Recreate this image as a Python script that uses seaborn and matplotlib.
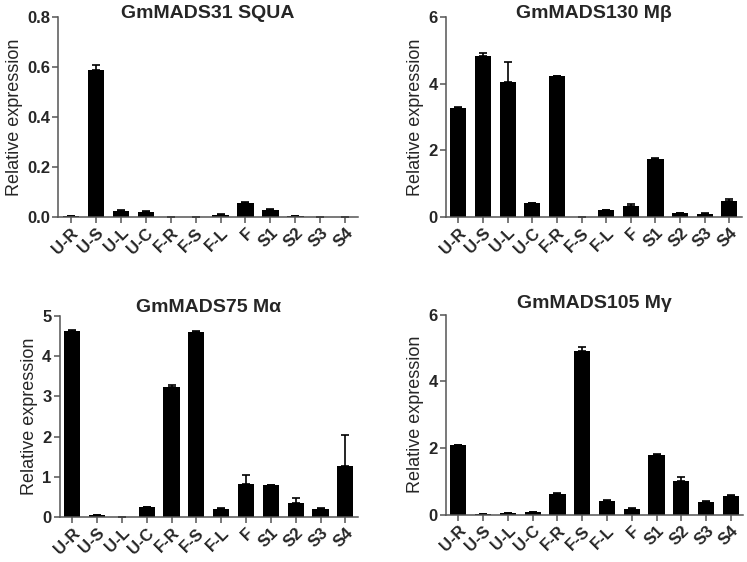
import numpy as np
import pandas as pd
import matplotlib
matplotlib.use("Agg")
import matplotlib.pyplot as plt
import seaborn as sns

samples = ["U-R", "U-S", "U-L", "U-C", "F-R", "F-S", "F-L", "F", "S1", "S2", "S3", "S4"]

squa_mean = [0.003, 0.587, 0.024, 0.020, 0.0, 0.0, 0.009, 0.056, 0.028, 0.002, 0.0, 0.0]
squa_err = [0.001, 0.020, 0.002, 0.002, 0.0, 0.0, 0.002, 0.005, 0.005, 0.001, 0.0, 0.0]

mb_mean = [3.28, 4.84, 4.04, 0.41, 4.22, 0.0, 0.20, 0.32, 1.75, 0.11, 0.09, 0.49]
mb_err = [0.02, 0.07, 0.60, 0.02, 0.02, 0.0, 0.02, 0.08, 0.02, 0.02, 0.02, 0.06]

ma_mean = [4.62, 0.05, 0.0, 0.24, 3.23, 4.59, 0.21, 0.82, 0.79, 0.34, 0.21, 1.28]
ma_err = [0.02, 0.01, 0.0, 0.01, 0.04, 0.03, 0.01, 0.23, 0.01, 0.14, 0.01, 0.75]

mg_mean = [2.08, 0.02, 0.04, 0.08, 0.63, 4.92, 0.42, 0.18, 1.80, 1.00, 0.38, 0.56]
mg_err = [0.01, 0.005, 0.01, 0.01, 0.01, 0.10, 0.02, 0.02, 0.02, 0.12, 0.04, 0.02]

titles = ["GmMADS31 SQUA", "GmMADS130 Mβ", "GmMADS75 Mα", "GmMADS105 Mγ"]
ymax = [0.8, 6, 5, 6]
yticks = [[0.0, 0.2, 0.4, 0.6, 0.8], [0, 2, 4, 6], [0, 1, 2, 3, 4, 5], [0, 2, 4, 6]]

sns.set_style("ticks")
plt.rcParams["font.family"] = ["Liberation Sans", "DejaVu Sans"]

fig = plt.figure(figsize=(7.47, 5.62), dpi=100)
boxes = [
    [0.078, 0.614, 0.401, 0.356],
    [0.597, 0.614, 0.396, 0.356],
    [0.080, 0.080, 0.399, 0.358],
    [0.597, 0.084, 0.398, 0.356],
]
title_pads = [-1, -1, 3, 4.5]
means = [squa_mean, mb_mean, ma_mean, mg_mean]
errs = [squa_err, mb_err, ma_err, mg_err]

for i in range(4):
    ax = fig.add_axes(boxes[i])
    df = pd.DataFrame({"sample": samples, "value": means[i], "err": errs[i]})
    sns.barplot(data=df, x="sample", y="value", order=samples, color="black",
                width=0.65, errorbar=None, saturation=1, edgecolor="black",
                linewidth=0, ax=ax)
    x = np.arange(len(samples))
    ax.errorbar(x, df["value"], yerr=[np.zeros(len(samples)), df["err"]],
                fmt="none", ecolor="black", elinewidth=1.2, capsize=3.2,
                capthick=1.2)
    ax.set_xlim(-0.5, len(samples) - 0.5)
    ax.set_ylim(0, ymax[i])
    ax.set_yticks(yticks[i])
    if i == 0:
        ax.set_yticklabels(["%.1f" % t for t in yticks[i]])
    ax.set_title(titles[i], fontsize=14, fontweight="bold", y=1.0, pad=title_pads[i])
    ax.set_xlabel("")
    ax.set_ylabel("Relative expression", fontsize=13, labelpad=3)
    ax.set_xticks(x)
    ax.set_xticklabels(samples, rotation=45, ha="right", rotation_mode="anchor",
                       fontweight="bold", fontsize=12)
    for lab in ax.get_yticklabels():
        lab.set_fontweight("bold")
        lab.set_fontsize(12)
    ax.tick_params(axis="both", length=4, width=1.1, color="#555555", pad=2)
    for s in ["left", "bottom"]:
        ax.spines[s].set_color("#555555")
        ax.spines[s].set_linewidth(1.1)
    sns.despine(ax=ax)

fig.savefig("out.png", dpi=100)
